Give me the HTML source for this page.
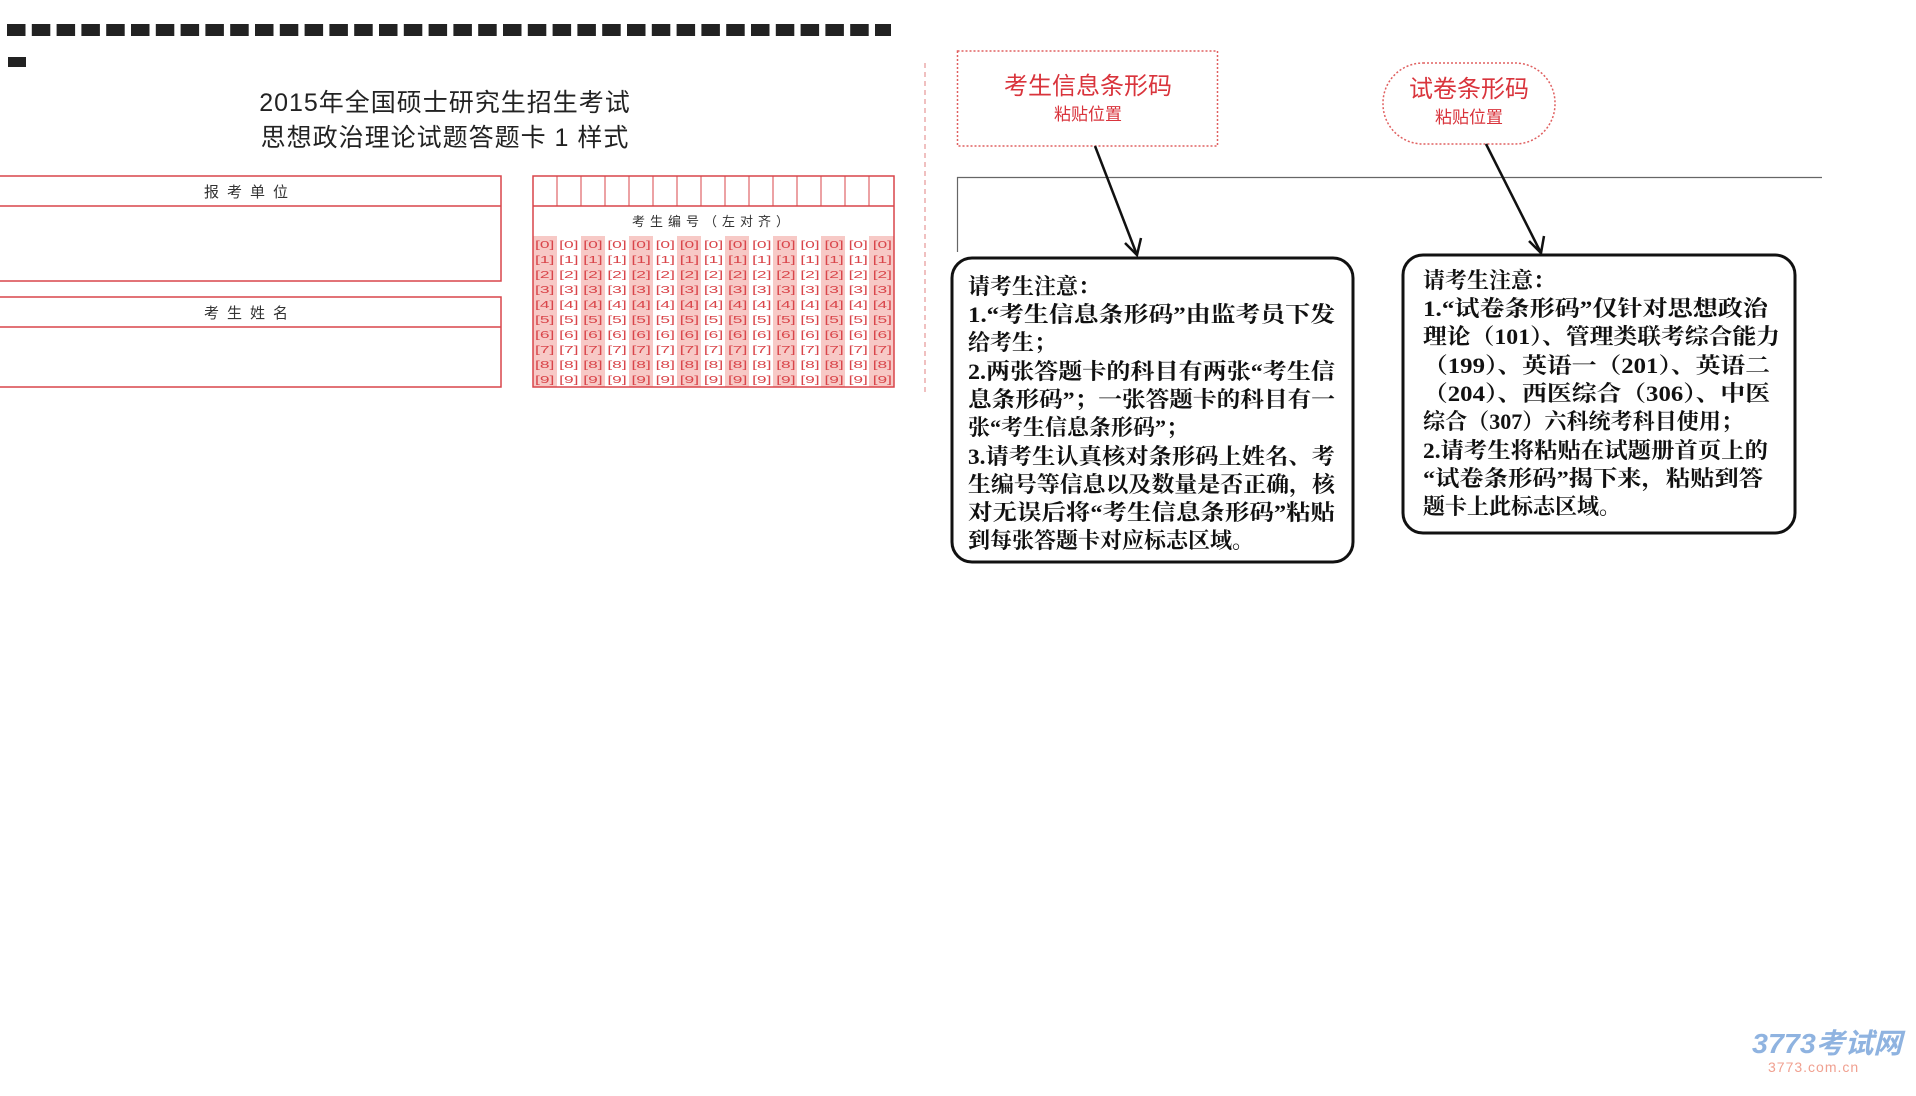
<!DOCTYPE html>
<html><head><meta charset="utf-8"><style>
html,body{margin:0;padding:0;background:#fff;width:1916px;height:1096px;overflow:hidden}
svg{display:block}
.t{font-family:"Liberation Serif","Noto Serif CJK SC",serif;font-weight:bold;font-size:22px;fill:#111}
.s{font-family:"Liberation Sans","Noto Sans CJK SC",sans-serif}
</style></head><body>
<svg width="1916" height="1096" viewBox="0 0 1916 1096" xmlns="http://www.w3.org/2000/svg">
<line x1="7" y1="30" x2="891" y2="30" stroke="#222" stroke-width="12" stroke-dasharray="18.5,6.3"/>
<rect x="8" y="57" width="18" height="10" fill="#222"/>
<text x="445" y="111" text-anchor="middle" class="s" font-size="25" fill="#222" letter-spacing="1">2015年全国硕士研究生招生考试</text>
<text x="445" y="146" text-anchor="middle" class="s" font-size="25" fill="#222" letter-spacing="1">思想政治理论试题答题卡 1 样式</text>
<g fill="none" stroke="#d9454a" stroke-width="1.5">
<rect x="-2" y="176" width="503" height="105"/>
<line x1="0" y1="206" x2="501" y2="206"/>
<rect x="-2" y="297" width="503" height="90"/>
<line x1="0" y1="327" x2="501" y2="327"/>
</g>
<text x="250" y="197" text-anchor="middle" class="s" font-size="15" fill="#333" letter-spacing="8">报考单位</text>
<text x="250" y="318" text-anchor="middle" class="s" font-size="15" fill="#333" letter-spacing="8">考生姓名</text>
<g>
<rect x="533" y="236" width="24" height="151" fill="#f7c9c6"/>
<rect x="581" y="236" width="24" height="151" fill="#f7c9c6"/>
<rect x="629" y="236" width="24" height="151" fill="#f7c9c6"/>
<rect x="677" y="236" width="24" height="151" fill="#f7c9c6"/>
<rect x="725" y="236" width="24" height="151" fill="#f7c9c6"/>
<rect x="773" y="236" width="24" height="151" fill="#f7c9c6"/>
<rect x="821" y="236" width="24" height="151" fill="#f7c9c6"/>
<rect x="869" y="236" width="25" height="151" fill="#f7c9c6"/>
</g>
<g fill="none" stroke="#d9454a" stroke-width="1.5">
<rect x="533" y="176" width="361" height="211"/>
<line x1="533" y1="206" x2="894" y2="206"/>
</g>
<g stroke="#d9454a" stroke-width="1">
<line x1="557" y1="176" x2="557" y2="206"/><line x1="581" y1="176" x2="581" y2="206"/><line x1="605" y1="176" x2="605" y2="206"/><line x1="629" y1="176" x2="629" y2="206"/><line x1="653" y1="176" x2="653" y2="206"/><line x1="677" y1="176" x2="677" y2="206"/><line x1="701" y1="176" x2="701" y2="206"/><line x1="725" y1="176" x2="725" y2="206"/><line x1="749" y1="176" x2="749" y2="206"/><line x1="773" y1="176" x2="773" y2="206"/><line x1="797" y1="176" x2="797" y2="206"/><line x1="821" y1="176" x2="821" y2="206"/><line x1="845" y1="176" x2="845" y2="206"/><line x1="869" y1="176" x2="869" y2="206"/>
</g>
<text x="713" y="226" text-anchor="middle" class="s" font-size="13" fill="#333" letter-spacing="5">考生编号（左对齐）</text>
<g class="s" font-size="10" fill="#d9454a">
<text x="535" y="248" textLength="357" lengthAdjust="spacingAndGlyphs">[0] [0] [0] [0] [0] [0] [0] [0] [0] [0] [0] [0] [0] [0] [0]</text>
<text x="535" y="263" textLength="357" lengthAdjust="spacingAndGlyphs">[1] [1] [1] [1] [1] [1] [1] [1] [1] [1] [1] [1] [1] [1] [1]</text>
<text x="535" y="278" textLength="357" lengthAdjust="spacingAndGlyphs">[2] [2] [2] [2] [2] [2] [2] [2] [2] [2] [2] [2] [2] [2] [2]</text>
<text x="535" y="293" textLength="357" lengthAdjust="spacingAndGlyphs">[3] [3] [3] [3] [3] [3] [3] [3] [3] [3] [3] [3] [3] [3] [3]</text>
<text x="535" y="308" textLength="357" lengthAdjust="spacingAndGlyphs">[4] [4] [4] [4] [4] [4] [4] [4] [4] [4] [4] [4] [4] [4] [4]</text>
<text x="535" y="323" textLength="357" lengthAdjust="spacingAndGlyphs">[5] [5] [5] [5] [5] [5] [5] [5] [5] [5] [5] [5] [5] [5] [5]</text>
<text x="535" y="338" textLength="357" lengthAdjust="spacingAndGlyphs">[6] [6] [6] [6] [6] [6] [6] [6] [6] [6] [6] [6] [6] [6] [6]</text>
<text x="535" y="353" textLength="357" lengthAdjust="spacingAndGlyphs">[7] [7] [7] [7] [7] [7] [7] [7] [7] [7] [7] [7] [7] [7] [7]</text>
<text x="535" y="368" textLength="357" lengthAdjust="spacingAndGlyphs">[8] [8] [8] [8] [8] [8] [8] [8] [8] [8] [8] [8] [8] [8] [8]</text>
<text x="535" y="383" textLength="357" lengthAdjust="spacingAndGlyphs">[9] [9] [9] [9] [9] [9] [9] [9] [9] [9] [9] [9] [9] [9] [9]</text>
</g>
<line x1="925" y1="63" x2="925" y2="396" stroke="#e08080" stroke-width="1" stroke-dasharray="5,4"/>
<rect x="957.5" y="51" width="260" height="95" fill="none" stroke="#e06060" stroke-width="1.5" stroke-dasharray="2,2"/>
<text x="1088" y="94" text-anchor="middle" class="s" font-size="24" fill="#d9343c">考生信息条形码</text>
<text x="1088" y="120" text-anchor="middle" class="s" font-size="17" fill="#d9343c">粘贴位置</text>
<rect x="1383" y="63" width="172" height="81" rx="40" fill="none" stroke="#e06060" stroke-width="1.5" stroke-dasharray="2,2"/>
<text x="1469" y="97" text-anchor="middle" class="s" font-size="24" fill="#d9343c">试卷条形码</text>
<text x="1469" y="123" text-anchor="middle" class="s" font-size="17" fill="#d9343c">粘贴位置</text>
<line x1="957" y1="177.5" x2="1822" y2="177.5" stroke="#666" stroke-width="1.2"/>
<line x1="957.5" y1="177" x2="957.5" y2="252" stroke="#666" stroke-width="1.2"/>
<g stroke="#111" stroke-width="2.5" fill="none">
<line x1="1095" y1="146" x2="1137" y2="255"/>
<polyline points="1125,243 1137,255 1141,238"/>
<line x1="1486" y1="144" x2="1541" y2="253"/>
<polyline points="1529,241 1541,253 1544,236"/>
</g>
<rect x="952" y="258" width="401" height="304" rx="20" fill="#fff" stroke="#111" stroke-width="3"/>
<rect x="1403" y="255" width="392" height="278" rx="20" fill="#fff" stroke="#111" stroke-width="3"/>
<g class="t">
<text x="968" y="294">请考生注意：</text>
<text x="968" y="322" textLength="367" lengthAdjust="spacingAndGlyphs">1.“考生信息条形码”由监考员下发</text>
<text x="968" y="350">给考生；</text>
<text x="968" y="379" textLength="367" lengthAdjust="spacingAndGlyphs">2.两张答题卡的科目有两张“考生信</text>
<text x="968" y="407" textLength="367" lengthAdjust="spacingAndGlyphs">息条形码”；一张答题卡的科目有一</text>
<text x="968" y="435">张“考生信息条形码”；</text>
<text x="968" y="464" textLength="367" lengthAdjust="spacingAndGlyphs">3.请考生认真核对条形码上姓名、考</text>
<text x="968" y="492" textLength="367" lengthAdjust="spacingAndGlyphs">生编号等信息以及数量是否正确，核</text>
<text x="968" y="520" textLength="367" lengthAdjust="spacingAndGlyphs">对无误后将“考生信息条形码”粘贴</text>
<text x="968" y="548">到每张答题卡对应标志区域。</text>
<text x="1423" y="288">请考生注意：</text>
<text x="1423" y="316" textLength="345" lengthAdjust="spacingAndGlyphs">1.“试卷条形码”仅针对思想政治</text>
<text x="1423" y="344" textLength="357" lengthAdjust="spacingAndGlyphs">理论（101）、管理类联考综合能力</text>
<text x="1423" y="373" textLength="347" lengthAdjust="spacingAndGlyphs">（199）、英语一（201）、英语二</text>
<text x="1423" y="401" textLength="347" lengthAdjust="spacingAndGlyphs">（204）、西医综合（306）、中医</text>
<text x="1423" y="429" textLength="320" lengthAdjust="spacingAndGlyphs">综合（307）六科统考科目使用；</text>
<text x="1423" y="458" textLength="345" lengthAdjust="spacingAndGlyphs">2.请考生将粘贴在试题册首页上的</text>
<text x="1423" y="486" textLength="340" lengthAdjust="spacingAndGlyphs">“试卷条形码”揭下来，粘贴到答</text>
<text x="1423" y="514">题卡上此标志区域。</text>
</g>
<text x="1752" y="1053" class="s" font-size="28" font-style="italic" font-weight="bold" fill="#8fb3e0" textLength="150" lengthAdjust="spacingAndGlyphs">3773考试网</text>
<text x="1768" y="1072" class="s" font-size="14" fill="#f0a090" letter-spacing="1">3773.com.cn</text>
</svg>
</body></html>
